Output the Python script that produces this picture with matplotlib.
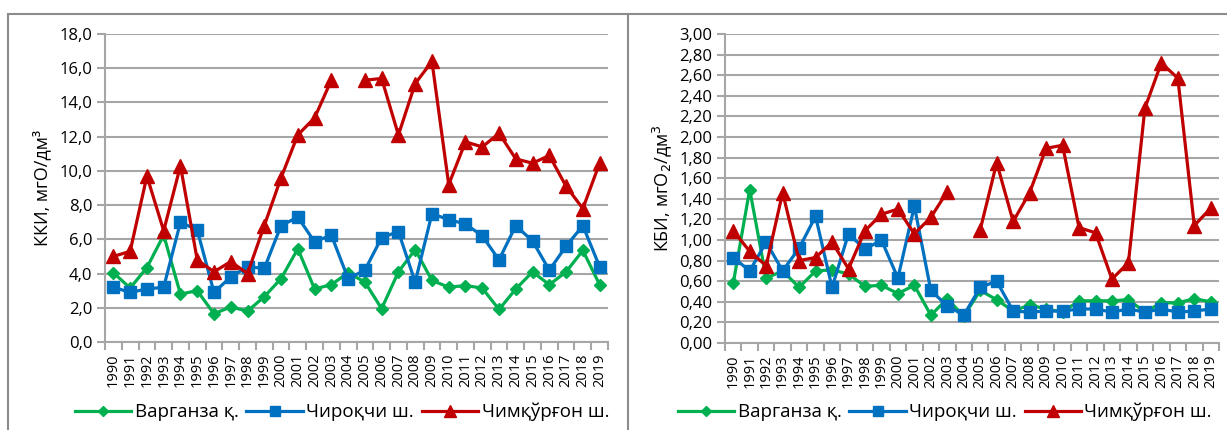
import matplotlib
matplotlib.use("Agg")
import matplotlib.pyplot as plt
from matplotlib.lines import Line2D
from matplotlib.ticker import FixedLocator, FuncFormatter

plt.rcParams['font.family'] = ['Open Sans', 'DejaVu Sans']

years = [str(y) for y in range(1990, 2020)]

# Left chart: ККИ
kki_varganza = [4.05, 3.15, 4.35, 6.25, 2.8, 3.0, 1.65, 2.05, 1.8, 2.65, 3.7, 5.45,
                3.1, 3.35, 4.05, 3.5, 1.95, 4.1, 5.4, 3.6, 3.2, 3.3, 3.15, 1.9,
                3.1, 4.1, 3.35, 4.1, 5.35, 3.35]
kki_chiroqchi = [3.2, 2.9, 3.1, 3.2, 7.0, 6.55, 2.9, 3.8, 4.4, 4.3, 6.8, 7.3,
                 5.85, 6.25, 3.7, 4.2, 6.1, 6.45, 3.5, 7.5, 7.15, 6.9, 6.2, 4.8,
                 6.8, 5.9, 4.2, 5.6, 6.8, 4.4]
kki_chimqurgon = [5.0, 5.3, 9.7, 6.5, 10.3, 4.8, 4.1, 4.7, 4.0, 6.8, 9.6, 12.1,
                  13.1, 15.3, None, 15.3, 15.4, 12.1, 15.1, 16.4, 9.2, 11.7, 11.4, 12.2,
                  10.7, 10.45, 10.9, 9.1, 7.8, 10.45]

# Right chart: КБИ
kbi_varganza = [0.58, 1.49, 0.63, 0.70, 0.54, 0.70, 0.71, 0.67, 0.55, 0.56, 0.48, 0.56,
                0.27, 0.43, 0.26, 0.51, 0.42, 0.31, 0.37, 0.33, 0.30, 0.41, 0.41, 0.41,
                0.42, 0.30, 0.39, 0.39, 0.43, 0.40]
kbi_chiroqchi = [0.83, 0.70, 0.98, 0.70, 0.92, 1.23, 0.54, 1.06, 0.91, 1.00, 0.63, 1.33,
                 0.51, 0.36, 0.27, 0.54, 0.60, 0.31, 0.30, 0.31, 0.31, 0.33, 0.33, 0.30,
                 0.33, 0.30, 0.33, 0.30, 0.31, 0.33]
kbi_chimqurgon = [1.09, 0.89, 0.75, 1.46, 0.80, 0.83, 0.98, 0.72, 1.09, 1.25, 1.30, 1.06,
                  1.22, 1.47, None, 1.10, 1.75, 1.18, 1.46, 1.89, 1.92, 1.12, 1.07, 0.62,
                  0.78, 2.28, 2.72, 2.57, 1.14, 1.31]

series_names = ["Варганза қ.", "Чироқчи ш.", "Чимқўрғон ш."]
colors = ["#00B050", "#0070C0", "#C00000"]
markers = ["D", "s", "^"]
msizes = [6.5, 8, 9.5]

grid_color = "#a6a6a6"
frame_color = "#8c8c8c"

fig = plt.figure(figsize=(12.27, 4.30), dpi=100)

ax1 = fig.add_axes([105/1227, 1-342/430, (608-105)/1227, (342-34)/430])
ax2 = fig.add_axes([725/1227, 1-343/430, (1219-725)/1227, (343-34)/430])

def fill_gaps(vals):
    return [float('nan') if v is None else v for v in vals]

def style_axis(ax, ymax, ystep, fmt):
    x = list(range(len(years)))
    ax.set_xlim(-0.5, len(years) - 0.5)
    ax.set_ylim(0, ymax)
    n = int(round(ymax / ystep))
    ax.set_yticks([i * ystep for i in range(n + 1)])
    ax.yaxis.set_major_formatter(FuncFormatter(lambda v, p: (fmt % v).replace('.', ',')))
    ax.grid(axis='y', color=grid_color, linewidth=1.5)
    ax.set_axisbelow(True)
    for s in ['top', 'right']:
        ax.spines[s].set_visible(False)
    for s in ['left', 'bottom']:
        ax.spines[s].set_color(grid_color)
        ax.spines[s].set_linewidth(1.5)
    ax.set_xticks(x)
    ax.set_xticklabels(years, rotation=90, fontsize=10.5)
    ax.xaxis.set_minor_locator(FixedLocator([i - 0.5 for i in range(len(years) + 1)]))
    ax.tick_params(axis='x', which='major', length=0, pad=8)
    ax.tick_params(axis='x', which='minor', length=6, color=grid_color, width=1.5)
    ax.tick_params(axis='y', length=6, color=grid_color, width=1.5, labelsize=12, pad=3)

def plot_series(ax, data):
    x = list(range(len(years)))
    handles = []
    for vals, c, m, ms, name in zip(data, colors, markers, msizes, series_names):
        h, = ax.plot(x, fill_gaps(vals), color=c, marker=m, markersize=ms,
                     linewidth=2.3, label=name, clip_on=False)
        handles.append(h)
    return handles

h1 = plot_series(ax1, [kki_varganza, kki_chiroqchi, kki_chimqurgon])
style_axis(ax1, 18, 2, "%.1f")
ax1.set_ylabel("ККИ, мгО/дм³", fontsize=13, labelpad=6)

h2 = plot_series(ax2, [kbi_varganza, kbi_chiroqchi, kbi_chimqurgon])
style_axis(ax2, 3.0, 0.2, "%.2f")
ax2.set_ylabel(r"КБИ, мгО$_2$/дм$^3$", fontsize=13, labelpad=4)

leg_kw = dict(loc='center', ncol=3, frameon=False, fontsize=13.5, handlelength=3.0,
              columnspacing=0.4, handletextpad=0.2, markerscale=0.85)
fig.legend(h1, series_names, bbox_to_anchor=(342/1227, 1-412/430), **leg_kw)
fig.legend(h2, series_names, bbox_to_anchor=(945/1227, 1-412/430), **leg_kw)

# chart frames
fig.add_artist(Line2D([8/1227, 1.0], [1-14/430, 1-14/430], color=frame_color, linewidth=1.5))
fig.add_artist(Line2D([8/1227, 8/1227], [0, 1-14/430], color=frame_color, linewidth=1.5))
fig.add_artist(Line2D([628/1227, 628/1227], [0, 1-14/430], color=frame_color, linewidth=1.5))

fig.savefig("out.png", dpi=100)
